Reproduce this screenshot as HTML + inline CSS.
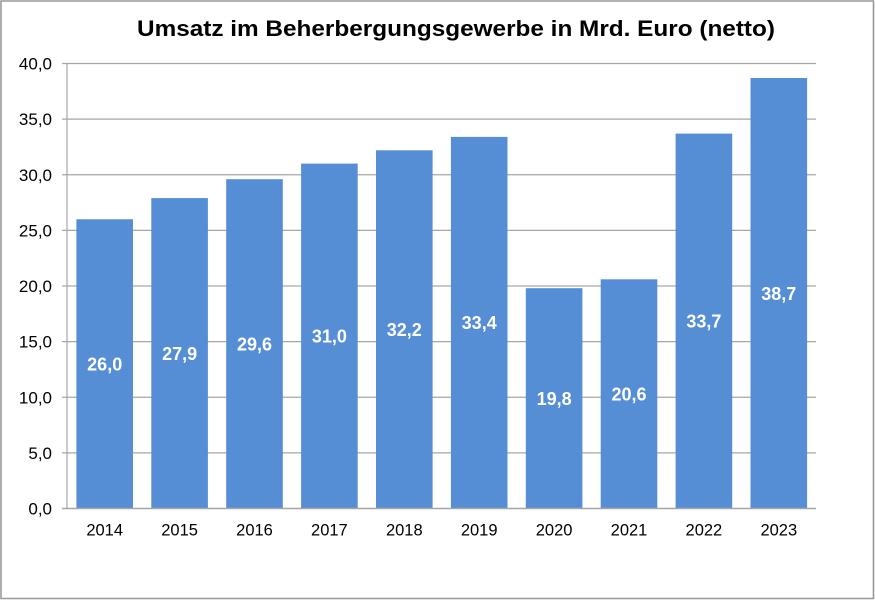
<!DOCTYPE html>
<html><head><meta charset="utf-8"><style>
html,body{margin:0;padding:0;background:#fff;}
svg{display:block;}
text{font-family:"Liberation Sans",Arial,sans-serif;}
</style></head><body>
<svg width="875" height="600" viewBox="0 0 875 600" xmlns="http://www.w3.org/2000/svg">
<rect x="0" y="0" width="875" height="600" fill="#fff"/>
<path d="M1,1 H873.5 V598.5 H1 Z" fill="none" stroke="#999" stroke-width="1.6"/>
<text x="456" y="36" font-size="22" font-weight="bold" text-anchor="middle" textLength="638" lengthAdjust="spacingAndGlyphs" fill="#000">Umsatz im Beherbergungsgewerbe in Mrd. Euro (netto)</text>
<g stroke="#a6a6a6" stroke-width="1.2">
<line x1="62" y1="63.5" x2="816" y2="63.5"/>
<line x1="62" y1="119.1" x2="816" y2="119.1"/>
<line x1="62" y1="174.75" x2="816" y2="174.75"/>
<line x1="62" y1="230.4" x2="816" y2="230.4"/>
<line x1="62" y1="286" x2="816" y2="286"/>
<line x1="62" y1="341.6" x2="816" y2="341.6"/>
<line x1="62" y1="397.25" x2="816" y2="397.25"/>
<line x1="62" y1="452.9" x2="816" y2="452.9"/>
<line x1="67" y1="63.5" x2="67" y2="508.5"/>
</g>
<g font-size="17" fill="#000" text-anchor="end">
<text x="52" y="69.5">40,0</text>
<text x="52" y="125.1">35,0</text>
<text x="52" y="180.75">30,0</text>
<text x="52" y="236.4">25,0</text>
<text x="52" y="292">20,0</text>
<text x="52" y="347.6">15,0</text>
<text x="52" y="403.25">10,0</text>
<text x="52" y="458.9">5,0</text>
<text x="52" y="514.5">0,0</text>
</g>
<g fill="#558ed5">
<rect x="76.4" y="219.25" width="56.6" height="289.25"/>
<rect x="151.3" y="198.1" width="56.6" height="310.4"/>
<rect x="226.2" y="179.2" width="56.6" height="329.3"/>
<rect x="301.1" y="163.6" width="56.6" height="344.9"/>
<rect x="376" y="150.3" width="56.6" height="358.2"/>
<rect x="450.9" y="136.9" width="56.6" height="371.6"/>
<rect x="525.8" y="288.2" width="56.6" height="220.3"/>
<rect x="600.7" y="279.3" width="56.6" height="229.2"/>
<rect x="675.6" y="133.6" width="56.6" height="374.9"/>
<rect x="750.5" y="78" width="56.6" height="430.5"/>
</g>
<line x1="62" y1="508.5" x2="816" y2="508.5" stroke="#a6a6a6" stroke-width="1.4"/>
<g font-size="18" font-weight="bold" fill="#fff" text-anchor="middle">
<text x="104.7" y="370.4">26,0</text>
<text x="179.6" y="359.8">27,9</text>
<text x="254.5" y="350.4">29,6</text>
<text x="329.4" y="342.6">31,0</text>
<text x="404.3" y="335.9">32,2</text>
<text x="479.2" y="329.2">33,4</text>
<text x="554.1" y="404.9">19,8</text>
<text x="629" y="400.4">20,6</text>
<text x="703.9" y="327.6">33,7</text>
<text x="778.8" y="299.8">38,7</text>
</g>
<g font-size="16.5" fill="#000" text-anchor="middle">
<text x="104.7" y="535.5">2014</text>
<text x="179.6" y="535.5">2015</text>
<text x="254.5" y="535.5">2016</text>
<text x="329.4" y="535.5">2017</text>
<text x="404.3" y="535.5">2018</text>
<text x="479.2" y="535.5">2019</text>
<text x="554.1" y="535.5">2020</text>
<text x="629" y="535.5">2021</text>
<text x="703.9" y="535.5">2022</text>
<text x="778.8" y="535.5">2023</text>
</g>
</svg>
</body></html>
